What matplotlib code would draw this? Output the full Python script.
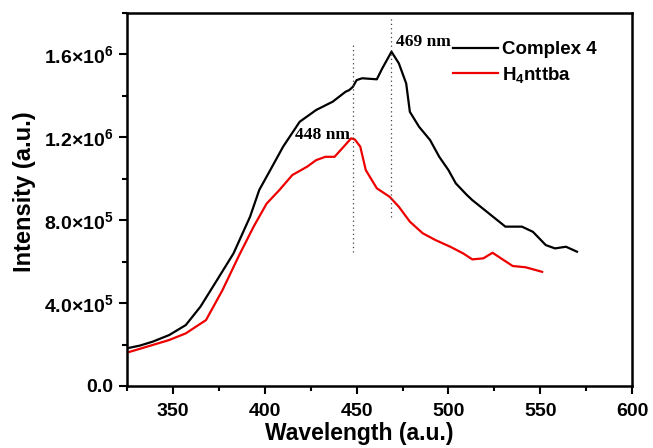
import numpy as np
import matplotlib
matplotlib.use('Agg')
import matplotlib.pyplot as plt
from matplotlib.ticker import MultipleLocator, FuncFormatter

# Complex 4 emission (black), intensity in units of 1e5
wl_complex = [325, 332, 339, 348, 357, 365, 374, 383, 392, 397, 403, 410, 419, 428,
              437, 444, 446, 448, 450, 453, 461, 464, 469, 473, 477, 479, 484, 490,
              495, 500, 504, 510, 513, 522, 531, 540, 546, 553, 558, 564, 570]
int_complex = [1.82, 1.95, 2.14, 2.46, 2.94, 3.83, 5.11, 6.40, 8.17, 9.46, 10.42, 11.55,
               12.75, 13.32, 13.72, 14.20, 14.28, 14.44, 14.76, 14.85, 14.80, 15.33,
               16.13, 15.57, 14.60, 13.23, 12.51, 11.87, 11.06, 10.42, 9.78, 9.22, 8.97,
               8.33, 7.69, 7.69, 7.44, 6.80, 6.64, 6.72, 6.48]

# H4nttba ligand emission (red)
wl_ligand = [325, 339, 348, 357, 368, 377, 386, 394, 401, 408, 415, 423, 428, 433, 438,
             443, 447, 449, 452, 455, 461, 468, 473, 479, 486, 493, 501, 508, 513, 519,
             524, 530, 535, 542, 551]
int_ligand = [1.61, 1.98, 2.22, 2.54, 3.18, 4.63, 6.30, 7.70, 8.80, 9.46, 10.18, 10.58,
              10.90, 11.06, 11.06, 11.55, 11.95, 11.90, 11.55, 10.42, 9.54, 9.13, 8.65,
              7.93, 7.37, 7.04, 6.72, 6.40, 6.11, 6.16, 6.43, 6.08, 5.79, 5.73, 5.51]

# peak markers: position, dotted line extent (x1e5), label
peak_pos = [448, 469]
peak_lo = [6.47, 8.15]
peak_hi = [16.45, 17.8]
peak_labels = ['448 nm', '469 nm']

plt.rcParams['font.family'] = 'Liberation Sans'
plt.rcParams['font.weight'] = 'bold'
plt.rcParams['mathtext.fontset'] = 'custom'
plt.rcParams['mathtext.rm'] = 'Liberation Sans:bold'
plt.rcParams['mathtext.bf'] = 'Liberation Sans:bold'
plt.rcParams['mathtext.default'] = 'bf'

fig = plt.figure(figsize=(6.53, 4.48), dpi=100)
ax = fig.add_axes([0.1945, 0.1384, 0.7735, 0.8326])

ax.plot(wl_complex, np.array(int_complex) * 1e5, color='black', lw=1.6, label='Complex 4')
ax.plot(wl_ligand, np.array(int_ligand) * 1e5, color='#ee0000', lw=1.6, label='H$_4$nttba')

for p, lo, hi in zip(peak_pos, peak_lo, peak_hi):
    ax.plot([p, p], [lo * 1e5, hi * 1e5], color='#444444', lw=0.9, ls=(0, (1, 2.5)))

ax.text(416.3, 1.211e6, peak_labels[0], family='Liberation Serif', weight='bold',
        fontsize=12.5, va='center', ha='left')
ax.text(471.7, 1.66e6, peak_labels[1], family='Liberation Serif', weight='bold',
        fontsize=12.5, va='center', ha='left')

ax.set_xlim(325, 600)
ax.set_ylim(0, 1.8e6)
ax.xaxis.set_major_locator(MultipleLocator(50))
ax.xaxis.set_minor_locator(MultipleLocator(25))
ax.yaxis.set_major_locator(MultipleLocator(4e5))
ax.yaxis.set_minor_locator(MultipleLocator(2e5))


def sci_fmt(v, pos):
    if v < 0:
        return ''
    if v == 0:
        return '0.0'
    exp = int(np.floor(np.log10(v)))
    return r'%.1f×10$^{%d}$' % (v / 10 ** exp, exp)


ax.yaxis.set_major_formatter(FuncFormatter(sci_fmt))
ax.tick_params(which='both', direction='out', width=1.5, labelsize=14)
ax.tick_params(which='major', length=6)
ax.tick_params(axis='x', which='major', pad=6)
ax.tick_params(axis='y', which='major', pad=4)
ax.tick_params(which='minor', length=3.5)
for s in ax.spines.values():
    s.set_linewidth(1.8)

ax.set_xlabel('Wavelength (a.u.)', fontsize=16.5, fontweight='bold')
ax.xaxis.set_label_coords(0.46, -0.097)
ax.set_ylabel('Intensity (a.u.)', fontsize=17, fontweight='bold')
ax.yaxis.set_label_coords(-0.18, 0.52)

ax.legend(loc='upper left', bbox_to_anchor=(0.6455, 0.925), frameon=False,
          fontsize=13.5, handlelength=2.4, handletextpad=0.2, borderpad=0,
          borderaxespad=0, labelspacing=0.35)

fig.savefig('out.png', dpi=100)
